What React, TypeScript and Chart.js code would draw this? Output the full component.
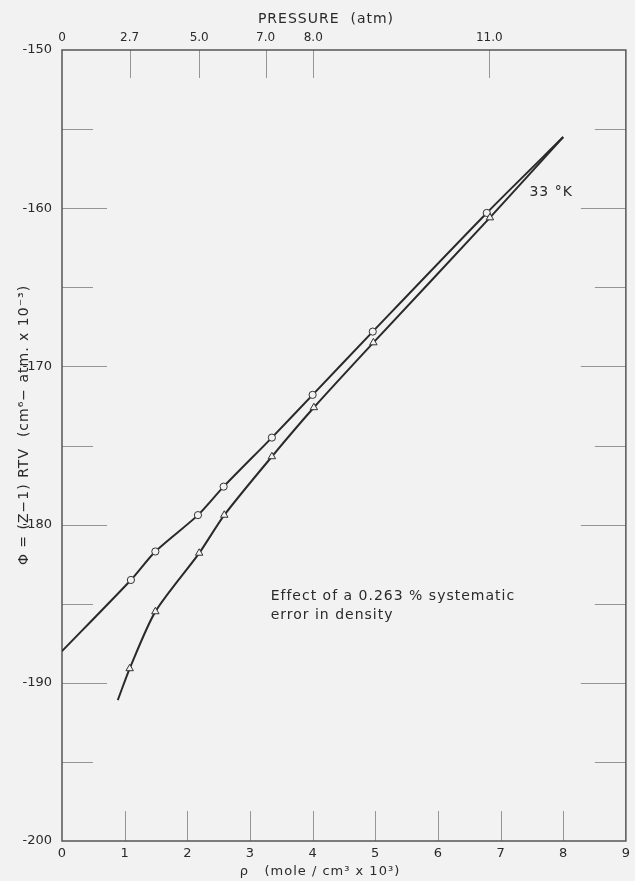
import React, { useEffect, useRef } from "react";
import { Chart, registerables } from "chart.js";

Chart.register(...registerables);

// ---- data ----
const circleRho = [1.1, 1.49, 2.17, 2.58, 3.35, 4.0, 4.96, 6.78];
const circlePhi = [-183.5, -181.7, -179.4, -177.6, -174.5, -171.8, -167.8, -160.3];
const triangleRho = [1.08, 1.49, 2.19, 2.59, 3.35, 4.02, 4.97, 6.83];
const trianglePhi = [-189.1, -185.5, -181.8, -179.4, -175.7, -172.6, -168.5, -160.6];
// end points of the drawn curves
const circleCurveEndRho = [0, 8.0];
const circleCurveEndPhi = [-188.0, -155.5];
const triangleCurveEndRho = [0.89, 8.0];
const triangleCurveEndPhi = [-191.1, -155.5];
// top pressure axis
const pressureRho = [0, 1.08, 2.19, 3.25, 4.01, 6.82];
const pressureLabels = ["0", "2.7", "5.0", "7.0", "8.0", "11.0"];

const BG = "#f2f2f2";
const INK = "#2a2a2a";
const FONT = "'DejaVu Sans', sans-serif";

function curve(endRho: number[], endPhi: number[], rho: number[], phi: number[]) {
  const pts = [
    { x: endRho[0], y: endPhi[0] },
    ...rho.map((r, i) => ({ x: r, y: phi[i] })),
    { x: endRho[1], y: endPhi[1] },
  ];
  return pts;
}

const framePlugin = {
  id: "frame",
  beforeDraw(chart: any) {
    const { ctx, width, height } = chart;
    ctx.save();
    ctx.fillStyle = BG;
    ctx.fillRect(0, 0, width, height);
    ctx.restore();
  },
  beforeDatasetsDraw(chart: any) {
    const { ctx, chartArea: a, scales } = chart;
    const xs = scales.x;
    const ys = scales.y;
    const xt = scales.xTop;
    ctx.save();
    ctx.strokeStyle = "#959595";
    ctx.lineWidth = 1;
    // left / right inward ticks
    ys.ticks.forEach((t: any) => {
      const v = t.value;
      if (v <= ys.min || v >= ys.max) return;
      const y = Math.round(ys.getPixelForValue(v)) + 0.5;
      const major = Math.abs(v % 10) < 1e-6;
      const len = major ? 45 : 31;
      ctx.beginPath();
      ctx.moveTo(a.left, y);
      ctx.lineTo(a.left + len, y);
      ctx.moveTo(a.right, y);
      ctx.lineTo(a.right - len, y);
      ctx.stroke();
    });
    // bottom inward ticks
    xs.ticks.forEach((t: any) => {
      const v = t.value;
      if (v <= xs.min || v >= xs.max) return;
      const x = Math.round(xs.getPixelForValue(v)) + 0.5;
      ctx.beginPath();
      ctx.moveTo(x, a.bottom);
      ctx.lineTo(x, a.bottom - 30);
      ctx.stroke();
    });
    // top inward ticks (pressure)
    xt.ticks.forEach((t: any) => {
      const v = t.value;
      if (v <= xt.min || v >= xt.max) return;
      const x = Math.round(xt.getPixelForValue(v)) + 0.5;
      ctx.beginPath();
      ctx.moveTo(x, a.top);
      ctx.lineTo(x, a.top + 28);
      ctx.stroke();
    });
    // frame
    ctx.strokeStyle = "#555";
    ctx.lineWidth = 1.5;
    ctx.strokeRect(a.left, a.top, a.right - a.left, a.bottom - a.top);
    ctx.restore();
  },
  afterDraw(chart: any) {
    const { ctx, scales } = chart;
    const xs = scales.x;
    const ys = scales.y;
    ctx.save();
    ctx.fillStyle = INK;
    (ctx as any).letterSpacing = "1px";
    ctx.textBaseline = "middle";
    ctx.font = `14px ${FONT}`;
    ctx.textAlign = "left";
    ctx.fillText("33 °K", xs.getPixelForValue(7.46), ys.getPixelForValue(-159.0));
    ctx.fillText("Effect of a 0.263 % systematic", xs.getPixelForValue(3.33), ys.getPixelForValue(-184.55));
    ctx.fillText("error in density", xs.getPixelForValue(3.33), ys.getPixelForValue(-185.75));

    // axis titles
    ctx.textAlign = "center";
    ctx.font = `14px ${FONT}`;
    ctx.fillText("PRESSURE  (atm)", 326, 19);
    ctx.font = `13px ${FONT}`;
    ctx.fillText("ρ   (mole / cm³ x 10³)", 320, 872);
    ctx.font = `14px ${FONT}`;
    ctx.translate(24, 425);
    ctx.rotate(-Math.PI / 2);
    ctx.fillText("Φ = (Z−1) RTV  (cm⁶− atm. x 10⁻³)", 0, 0);
    ctx.restore();
  },
};

export default function App() {
  const ref = useRef<HTMLCanvasElement>(null);
  useEffect(() => {
    if (!ref.current) return;
    const chart = new Chart(ref.current, {
      type: "scatter",
      data: {
        datasets: [
          {
            type: "line",
            data: curve(circleCurveEndRho, circleCurveEndPhi, circleRho, circlePhi),
            borderColor: INK,
            borderWidth: 2,
            pointRadius: 0,
            tension: 0.25,
            fill: false,
            order: 3,
          } as any,
          {
            type: "line",
            data: curve(triangleCurveEndRho, triangleCurveEndPhi, triangleRho, trianglePhi),
            borderColor: INK,
            borderWidth: 2,
            pointRadius: 0,
            tension: 0.25,
            fill: false,
            order: 2,
          } as any,
          {
            data: circleRho.map((r, i) => ({ x: r, y: circlePhi[i] })),
            pointStyle: "circle",
            pointRadius: 3.6,
            backgroundColor: BG,
            borderColor: "#333",
            borderWidth: 1,
            order: 1,
          },
          {
            data: triangleRho.map((r, i) => ({ x: r, y: trianglePhi[i] })),
            pointStyle: "triangle",
            pointRadius: 4.3,
            backgroundColor: BG,
            borderColor: "#333",
            borderWidth: 1,
            order: 0,
          },
        ],
      },
      options: {
        responsive: false,
        animation: false,
        layout: { padding: { left: 0, right: 3, top: 0, bottom: 0 } },
        plugins: { legend: { display: false }, tooltip: { enabled: false } },
        scales: {
          x: {
            type: "linear",
            position: "bottom",
            min: 0,
            max: 9,
            grid: { display: false, drawTicks: false },
            border: { display: false },
            ticks: { stepSize: 1, padding: 5, color: INK, font: { family: FONT, size: 13 }, maxRotation: 0 },
            afterFit: (s: any) => { s.height = 40; },
          },
          xTop: {
            type: "linear",
            position: "top",
            min: 0,
            max: 9,
            grid: { display: false, drawTicks: false },
            border: { display: false },
            afterBuildTicks: (s: any) => { s.ticks = pressureRho.map((v) => ({ value: v })); },
            ticks: {
              autoSkip: false,
              maxRotation: 0,
              padding: 5,
              color: INK,
              font: { family: FONT, size: 12 },
              callback: (_v: any, i: number) => pressureLabels[i],
            },
            afterFit: (s: any) => { s.height = 50; },
          },
          y: {
            type: "linear",
            min: -200,
            max: -150,
            grid: { display: false, drawTicks: false },
            border: { display: false },
            ticks: {
              stepSize: 5,
              padding: 10,
              color: INK,
              font: { family: FONT, size: 13 },
              callback: (v: any) => (Math.abs(v % 10) < 1e-6 ? String(v) : ""),
            },
            afterFit: (s: any) => { s.width = 62; },
          },
        },
      } as any,
      plugins: [framePlugin],
    });
    return () => chart.destroy();
  }, []);

  return (
    <div style={{ position: "fixed", left: 0, top: 0, width: 635, height: 881, background: BG }}>
      <canvas ref={ref} width={635} height={881} style={{ display: "block" }} />
    </div>
  );
}
